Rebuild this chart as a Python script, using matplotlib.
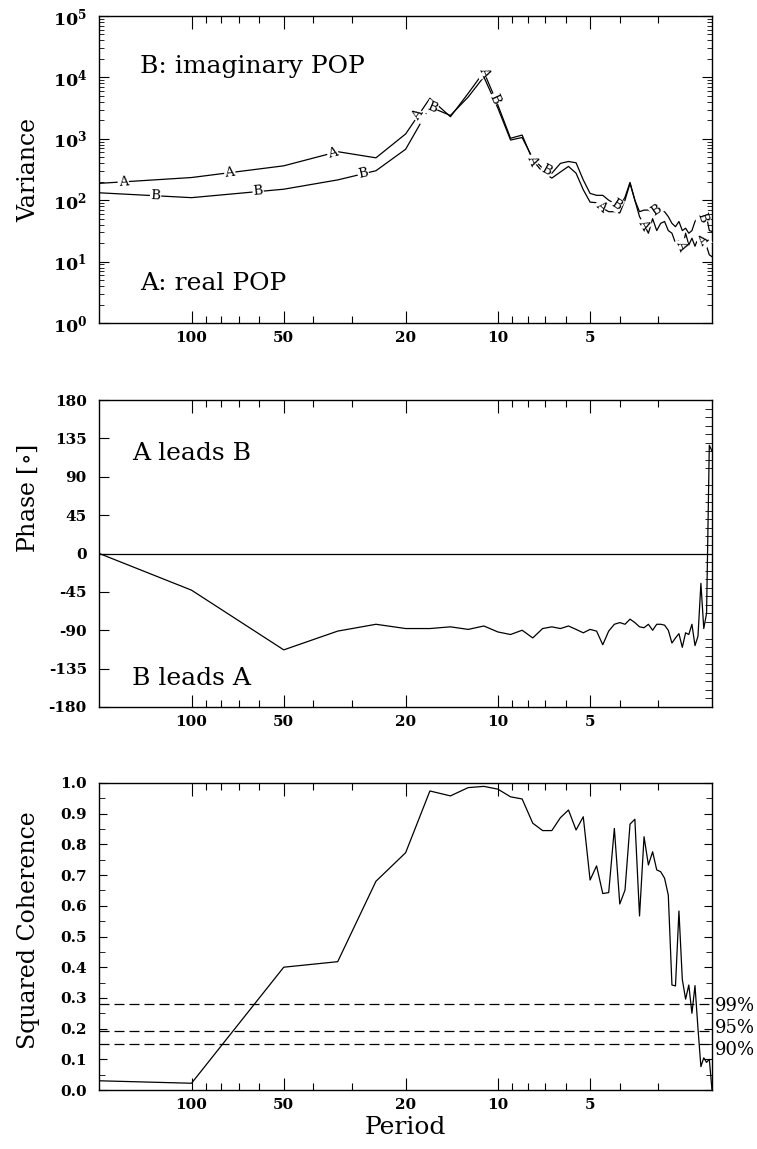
import numpy as np
import matplotlib
matplotlib.use('Agg')
import matplotlib.pyplot as plt
from matplotlib.ticker import LogLocator, NullFormatter, MultipleLocator

plt.rcParams['font.family'] = 'DejaVu Serif'
plt.rcParams['mathtext.fontset'] = 'dejavuserif'

# frequency grid: first point at 1/200, then 0.01 ... 0.50 cycles per step
freq = np.concatenate([[0.005], np.arange(1, 51) / 100])
period = 1.0 / freq

# variance spectra of the two POP coefficients
var_a = [188, 234, 363, 617, 490, 1200, 4570, 2290, 5500, 12300,
         3550, 1020, 1150, 447, 288, 229, 288, 355, 275, 148,
         93, 91, 74, 65, 65, 62, 100, 188, 100, 54,
         40, 29, 50, 32, 42, 45, 32, 29, 20, 22,
         15.5, 29, 18.6, 24, 17.8, 24, 20, 22, 17.8, 12.9, 12]
var_b = [132, 110, 151, 214, 302, 676, 3310, 2400, 4790, 10200,
         3160, 955, 1050, 479, 331, 275, 398, 427, 407, 214,
         129, 120, 120, 100, 89, 78, 112, 195, 100, 65,
         69, 69, 62, 69, 62, 65, 54, 42, 37, 45,
         32, 35, 29, 32, 45, 54, 62, 45, 54, 32, 31]

# phase (degrees)
phase = [0, -43, -113, -91, -83, -88, -88, -86, -89, -85,
         -92, -95, -90, -99, -88, -86, -88, -85, -89, -93,
         -89, -91, -107, -91, -83, -81, -83, -77, -81, -86,
         -87, -83, -90, -83, -83, -84, -90, -105, -99, -94,
         -110, -93, -95, -83, -108, -97, -35, -88, -70, 127, 120]

# squared coherence
coh = [0.03, 0.022, 0.40, 0.418, 0.68, 0.773, 0.974, 0.958, 0.985, 0.989,
       0.98, 0.955, 0.948, 0.869, 0.845, 0.845, 0.887, 0.912, 0.847, 0.89,
       0.684, 0.73, 0.64, 0.643, 0.852, 0.606, 0.651, 0.866, 0.882, 0.567,
       0.825, 0.733, 0.776, 0.717, 0.711, 0.69, 0.635, 0.342, 0.339, 0.583,
       0.36, 0.296, 0.342, 0.25, 0.34, 0.2, 0.076, 0.105, 0.09, 0.1, 0.0]

sig_levels = [0.28, 0.192, 0.151]
sig_names = ['99%', '95%', '90%']
sig_text_y = [0.275, 0.203, 0.130]

period_ticks = [100, 50, 20, 10, 5]
period_minor = [90, 80, 70, 60, 40, 30, 9, 8, 7, 6, 4, 3]

# where the inline A / B labels sit (periods)
label_a = [167, 75, 34.6, 18.2, 11.1, 7.7, 4.62, 3.34, 2.53, 2.13]
label_b = [131, 60.6, 27.5, 16.4, 10.3, 6.94, 4.1, 3.05, 2.15]

fig = plt.figure(figsize=(7.57, 11.49), dpi=100)
W = 612.7 / 757
H = 307 / 1149
ax1 = fig.add_axes([99.3 / 757, 1 - 323 / 1149, W, H])
ax2 = fig.add_axes([99.3 / 757, 1 - 707 / 1149, W, H])
ax3 = fig.add_axes([99.3 / 757, 1 - 1090 / 1149, W, H])

lw = 0.9


def setup_x(ax):
    ax.set_xscale('log')
    ax.set_xlim(200, 2)
    ax.set_xticks(period_ticks, [str(p) for p in period_ticks],
                  fontweight='bold', fontsize=11)
    ax.set_xticks(period_minor, minor=True)
    ax.xaxis.set_minor_formatter(NullFormatter())
    ax.tick_params(axis='x', which='both', direction='in', top=True, bottom=True, pad=6)
    ax.tick_params(axis='x', which='major', length=9, width=0.8)
    ax.tick_params(axis='x', which='minor', length=5, width=0.8)
    for s in ax.spines.values():
        s.set_linewidth(1.0)


# ---- variance
setup_x(ax1)
ax1.set_yscale('log')
ax1.set_ylim(1, 1e5)
ax1.set_yticks([10.0 ** e for e in range(6)],
               [r'$\mathbf{10^{%d}}$' % e for e in range(6)], fontsize=12.5)
ax1.yaxis.set_minor_locator(LogLocator(base=10, subs=np.arange(2, 10)))
ax1.yaxis.set_minor_formatter(NullFormatter())
ax1.tick_params(axis='y', which='both', direction='in', left=True, right=True, pad=9)
ax1.tick_params(axis='y', which='major', length=7)
ax1.tick_params(axis='y', which='minor', length=3.5)
ax1.plot(period, var_a, color='black', lw=lw)
ax1.plot(period, var_b, color='black', lw=lw)
ax1.set_ylabel('Variance', fontsize=17)
ax1.yaxis.set_label_coords(-0.097, 0.5)
ax1.text(0.066, 0.814, 'B: imaginary POP', transform=ax1.transAxes, fontsize=18,
         va='baseline')
ax1.text(0.066, 0.107, 'A: real POP', transform=ax1.transAxes, fontsize=18,
         va='baseline')


def inline_labels(ax, y, where, letter):
    lx = np.log10(freq)
    ly = np.log10(y)
    for p in where:
        f = np.log10(1.0 / p)
        yy = 10 ** np.interp(f, lx, ly)
        i = int(np.clip(np.searchsorted(lx, f), 1, len(lx) - 1))
        p0 = ax.transData.transform((period[i - 1], y[i - 1]))
        p1 = ax.transData.transform((period[i], y[i]))
        ang = np.degrees(np.arctan2(p1[1] - p0[1], p1[0] - p0[0]))
        ax.text(p, yy, letter, rotation=ang, rotation_mode='anchor',
                ha='center', va='center', fontsize=9.5,
                bbox=dict(fc='white', ec='none', pad=0.6), zorder=3)


inline_labels(ax1, var_a, label_a, 'A')
inline_labels(ax1, var_b, label_b, 'B')

# ---- phase
setup_x(ax2)
ax2.set_ylim(-180, 180)
ax2.set_yticks(np.arange(-180, 181, 45),
               [str(v) for v in range(-180, 181, 45)],
               fontweight='bold', fontsize=11)
ax2.yaxis.set_minor_locator(MultipleLocator(10))
ax2.tick_params(axis='y', which='major', direction='in', left=True, right=False,
                length=7, pad=9)
ax2.tick_params(axis='y', which='minor', direction='in', left=False, right=True,
                length=5)
ax2.axhline(0, color='black', lw=lw)
ax2.plot(period, phase, color='black', lw=lw)
ax2.set_ylabel(r'Phase [$\circ$]', fontsize=17)
ax2.yaxis.set_label_coords(-0.097, 0.68)
ax2.text(0.053, 0.803, 'A leads B', transform=ax2.transAxes, fontsize=18,
         va='baseline')
ax2.text(0.053, 0.072, 'B leads A', transform=ax2.transAxes, fontsize=18,
         va='baseline')

# ---- coherence
setup_x(ax3)
ax3.set_ylim(0, 1)
ax3.set_yticks(np.arange(0, 1.01, 0.1),
               ['%.1f' % v for v in np.arange(0, 1.01, 0.1)],
               fontweight='bold', fontsize=11)
ax3.yaxis.set_minor_locator(MultipleLocator(0.05))
ax3.tick_params(axis='y', which='both', direction='in', left=True, right=True, pad=9)
ax3.tick_params(axis='y', which='major', length=6)
ax3.tick_params(axis='y', which='minor', length=4)
ax3.plot(period, coh, color='black', lw=lw)
for lev, name, ty in zip(sig_levels, sig_names, sig_text_y):
    ax3.axhline(lev, color='black', lw=lw, linestyle=(0, (8, 4)))
    ax3.text(1.004, ty, name, transform=ax3.get_yaxis_transform(),
             fontsize=13, va='center', ha='left')
ax3.set_ylabel('Squared Coherence', fontsize=17)
ax3.yaxis.set_label_coords(-0.097, 0.52)
ax3.set_xlabel('Period', fontsize=18, labelpad=3)

fig.savefig('out.png', dpi=100)
